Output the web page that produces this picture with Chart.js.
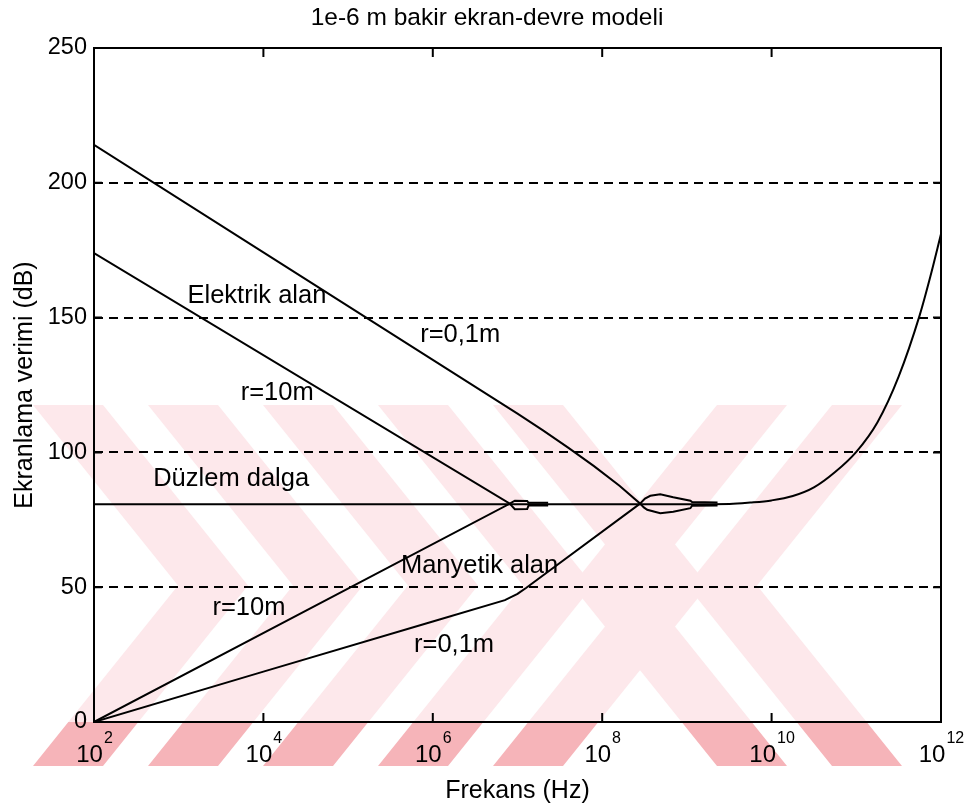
<!DOCTYPE html>
<html>
<head>
<meta charset="utf-8">
<title>1e-6 m bakir ekran-devre modeli</title>
<script src="https://cdn.jsdelivr.net/npm/chart.js@4.4.0/dist/chart.umd.min.js"></script>
<style>
  html, body { margin: 0; padding: 0; background: #fff; }
</style>
</head>
<body>
<canvas id="chart" width="968" height="811"></canvas>
<script>
// Düzlem dalga (frekans Hz, ekranlama verimi dB)
const duzlemFrek = [1e2, 1e9, 3.2e9, 5.6e9, 1e10, 1.78e10, 3.16e10, 5.62e10, 1e11, 1.78e11, 3.16e11, 5.62e11, 7.5e11, 1e12];
const duzlemDb   = [80.8, 80.8, 80.9, 81.4, 82.2, 83.8, 87.0, 92.7, 100.2, 111.2, 128.1, 151, 165.3, 181];

// Elektrik alan, r=0,1m
const elek01Frek = [1e2, 1e4, 1e6, 1e7, 2e7, 4e7, 8e7, 1.6e8, 2.8e8, 3.2e8, 3.7e8, 4.85e8, 6.9e8, 1.1e9, 1.15e9, 2.3e9];
const elek01Db   = [214.1, 174.2, 134.3, 114.4, 108.2, 101.7, 94.9, 87.6, 81, 82.9, 83.9, 84.5, 83.4, 82.1, 81.6, 81.4];

// Elektrik alan, r=10m
const elek10Frek = [1e2, 8.1e6, 9.3e6, 1.3e7, 1.35e7, 2.3e7];
const elek10Db   = [173.9, 81, 82.1, 82.0, 81.3, 81.3];

// Manyetik alan, r=0,1m
const many01Frek = [1e2, 1e4, 1e6, 7.1e6, 1e7, 1.26e7, 2.8e8, 3.1e8, 3.4e8, 4.85e8, 6.9e8, 1.1e9, 1.15e9, 2.3e9];
const many01Db   = [0, 18.7, 37.3, 45.2, 47.5, 49.7, 81, 79.6, 78.7, 77.4, 78, 79.3, 80.2, 80.3];

// Manyetik alan, r=10m
const many10Frek = [1e2, 8.1e6, 9.3e6, 1.3e7, 1.35e7, 2.3e7];
const many10Db   = [0, 81, 78.9, 79.0, 80.3, 80.3];

const xTicks = [1e2, 1e4, 1e6, 1e8, 1e10, 1e12];
const xTickUs = ['2', '4', '6', '8', '10', '12'];
const yTicks = [0, 50, 100, 150, 200, 250];

const baslik = '1e-6 m bakir ekran-devre modeli';

// grafik üzerindeki yazılar (sol kenar Hz, orta dB)
const etiketler = [
  { text: 'Elektrik alan', x: 1.27e3, y: 158 },
  { text: 'r=0,1m', x: 7.1e5, y: 143.5 },
  { text: 'r=10m', x: 5.4e3, y: 122 },
  { text: 'Düzlem dalga', x: 5e2, y: 90.2 },
  { text: 'Manyetik alan', x: 4.2e5, y: 57.9 },
  { text: 'r=10m', x: 2.5e3, y: 42.3 },
  { text: 'r=0,1m', x: 6e5, y: 28.6 }
];

const FONT = "'Liberation Sans', Arial, sans-serif";

const seri = (frek, db) => frek.map((f, i) => ({ x: f, y: db[i] }));

// arka plandaki filigran: ok biçimli şeritler (uç x, yön)
const filigran = [
  [248, 1], [363, 1], [478, 1], [593, 1], [708, 1],
  [572, -1], [687, -1]
];

const arkaPlan = {
  id: 'arkaPlan',
  beforeDraw(chart) {
    const ctx = chart.ctx;
    const a = chart.chartArea;
    ctx.save();
    ctx.fillStyle = '#fff';
    ctx.fillRect(0, 0, chart.width, chart.height);
    const y0 = 405, y1 = 766, ym = (y0 + y1) / 2, w = 70, h = 145;
    const ciz = (renk, top, bot) => {
      ctx.save();
      ctx.beginPath();
      ctx.rect(0, top, chart.width, bot - top);
      ctx.clip();
      ctx.fillStyle = renk;
      filigran.forEach(([t, dir]) => {
        ctx.beginPath();
        ctx.moveTo(t - dir * (h + w), y0);
        ctx.lineTo(t - dir * h, y0);
        ctx.lineTo(t, ym);
        ctx.lineTo(t - dir * h, y1);
        ctx.lineTo(t - dir * (h + w), y1);
        ctx.lineTo(t - dir * w, ym);
        ctx.closePath();
        ctx.fill();
      });
      ctx.restore();
    };
    ciz('#fde8eb', y0, a.bottom);
    ciz('#f6b4b9', a.bottom, y1);

    ctx.fillStyle = '#000';
    ctx.font = '24.5px ' + FONT;
    ctx.textAlign = 'center';
    ctx.textBaseline = 'middle';
    ctx.fillText(baslik, 487, 18);
    ctx.restore();
  },
  afterDatasetsDraw(chart) {
    const ctx = chart.ctx;
    const a = chart.chartArea;
    const xs = chart.scales.x, ys = chart.scales.y;
    ctx.save();
    ctx.strokeStyle = '#000';
    ctx.lineWidth = 2;
    ctx.strokeRect(a.left, a.top, a.right - a.left, a.bottom - a.top);
    ctx.beginPath();
    xTicks.slice(1, -1).forEach(v => {
      const px = xs.getPixelForValue(v);
      ctx.moveTo(px, a.bottom); ctx.lineTo(px, a.bottom - 9);
      ctx.moveTo(px, a.top); ctx.lineTo(px, a.top + 9);
    });
    yTicks.slice(1, -1).forEach(v => {
      const py = ys.getPixelForValue(v);
      ctx.moveTo(a.left, py); ctx.lineTo(a.left + 8, py);
      ctx.moveTo(a.right, py); ctx.lineTo(a.right - 8, py);
    });
    ctx.stroke();

    // x ekseni etiketleri: 10 üzeri
    ctx.fillStyle = '#000';
    ctx.textBaseline = 'alphabetic';
    ctx.textAlign = 'left';
    xTicks.forEach((v, i) => {
      const px = xs.getPixelForValue(v);
      ctx.font = '24px ' + FONT;
      const w1 = ctx.measureText('10').width;
      ctx.font = '16px ' + FONT;
      const w2 = ctx.measureText(xTickUs[i]).width;
      const sol = px - (w1 + w2) / 2;
      ctx.font = '24px ' + FONT;
      ctx.fillText('10', sol, 762);
      ctx.font = '16px ' + FONT;
      ctx.fillText(xTickUs[i], sol + w1 + 1, 743);
    });

    ctx.font = '25.5px ' + FONT;
    ctx.textBaseline = 'middle';
    etiketler.forEach(e => {
      ctx.fillText(e.text, xs.getPixelForValue(e.x), ys.getPixelForValue(e.y));
    });
    ctx.restore();
  }
};

const cizgi = {
  borderColor: '#000',
  borderWidth: 2,
  pointRadius: 0,
  tension: 0,
  fill: false
};

new Chart(document.getElementById('chart'), {
  type: 'line',
  data: {
    datasets: [
      { ...cizgi, label: 'Düzlem dalga', data: seri(duzlemFrek, duzlemDb), cubicInterpolationMode: 'monotone' },
      { ...cizgi, label: 'Elektrik alan r=0,1m', data: seri(elek01Frek, elek01Db) },
      { ...cizgi, label: 'Elektrik alan r=10m', data: seri(elek10Frek, elek10Db) },
      { ...cizgi, label: 'Manyetik alan r=0,1m', data: seri(many01Frek, many01Db) },
      { ...cizgi, label: 'Manyetik alan r=10m', data: seri(many10Frek, many10Db) }
    ]
  },
  options: {
    responsive: false,
    animation: false,
    layout: { padding: { left: 0, right: 27, top: 48, bottom: 0 } },
    plugins: {
      legend: { display: false },
      tooltip: { enabled: false },
      title: { display: false }
    },
    scales: {
      x: {
        type: 'logarithmic',
        min: 1e2,
        max: 1e12,
        afterBuildTicks: s => { s.ticks = xTicks.map(v => ({ value: v })); },
        afterFit: s => { s.height = 89; },
        ticks: { display: false },
        grid: { display: false },
        border: { display: false },
        title: {
          display: true,
          text: 'Frekans (Hz)',
          color: '#000',
          font: { family: FONT, size: 25, lineHeight: 1.2 },
          padding: { top: 0, bottom: 5 }
        }
      },
      y: {
        min: 0,
        max: 250,
        afterBuildTicks: s => { s.ticks = yTicks.map(v => ({ value: v })); },
        afterFit: s => { s.width = 94; },
        ticks: { color: '#000', padding: 7, font: { family: FONT, size: 23.5 } },
        grid: {
          drawTicks: false,
          lineWidth: 2,
          color: c => (c.tick && c.tick.value > 0 && c.tick.value < 250) ? '#000' : 'rgba(0,0,0,0)'
        },
        border: { display: false, dash: [9, 6] },
        title: {
          display: true,
          text: 'Ekranlama verimi (dB)',
          color: '#000',
          font: { family: FONT, size: 25, lineHeight: 1.2 },
          padding: { top: 10, bottom: 0 }
        }
      }
    }
  },
  plugins: [arkaPlan]
});
</script>
</body>
</html>
